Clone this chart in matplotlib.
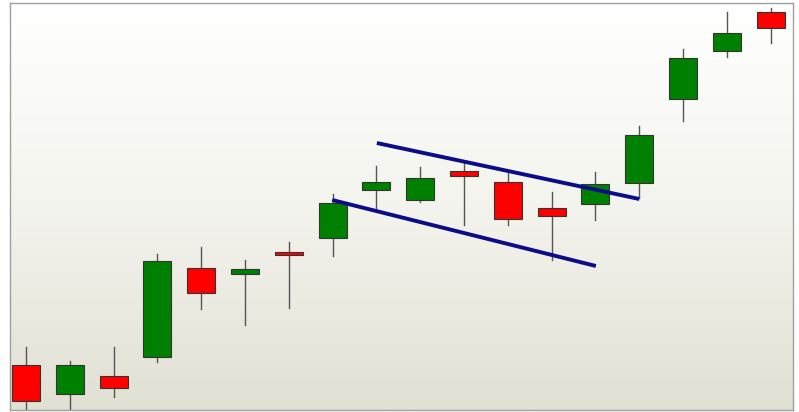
import numpy as np
import matplotlib.pyplot as plt
from matplotlib.colors import LinearSegmentedColormap

# candle data (open, high, low, close)
opens  = [24.5, 21.6, 23.4, 25.3, 34.2, 33.6, 35.8, 37.2, 42.0, 41.0, 43.9, 42.8, 40.2, 40.6, 42.7, 51.1, 55.9, 59.8]
highs  = [26.3, 24.9, 26.3, 35.6, 36.3, 35.0, 36.8, 41.6, 44.4, 44.3, 44.7, 43.8, 41.8, 43.8, 48.4, 56.1, 59.8, 60.2]
lows   = [19.9, 19.9, 21.3, 24.8, 30.1, 28.5, 30.2, 35.4, 40.1, 40.8, 38.5, 38.5, 35.0, 39.0, 41.2, 48.9, 55.3, 56.7]
closes = [20.9, 24.5, 22.2, 34.9, 31.7, 34.1, 35.5, 40.7, 42.8, 43.2, 43.4, 39.1, 39.4, 42.6, 47.5, 55.2, 57.7, 58.2]

# flag trend lines (x index, price)
upper_x = [8.01, 14.0]
upper_y = [46.7, 41.1]
lower_x = [6.99, 13.01]
lower_y = [41.0, 34.4]

fig = plt.figure(figsize=(7.99, 4.12), dpi=100)
ax = fig.add_axes([10 / 799, 2 / 412, 783 / 799, 407 / 412])

# gradient background, white at top
cmap = LinearSegmentedColormap.from_list('bg', ['#ffffff', '#f4f4ee', '#e0e0d3'])
grad = np.linspace(0, 1, 256).reshape(-1, 1)
ax.imshow(grad, cmap=cmap, aspect='auto', extent=[0, 1, 0, 1], origin='upper',
          transform=ax.transAxes, zorder=0)

width = 0.64
for i in range(len(opens)):
    o, h, l, c = opens[i], highs[i], lows[i], closes[i]
    color = '#008000' if c >= o else '#ff0000'
    ax.plot([i, i], [l, h], color='#555555', lw=1, zorder=2)
    bottom = min(o, c)
    ax.bar(i, abs(c - o), width=width, bottom=bottom, color=color,
           edgecolor='#333333', linewidth=0.8, zorder=3)

ax.plot(upper_x, upper_y, color='#0c0c8a', lw=2.8, zorder=4, solid_capstyle='butt')
ax.plot(lower_x, lower_y, color='#0c0c8a', lw=2.8, zorder=4, solid_capstyle='butt')

ax.set_xlim(-0.365, 17.51)
ax.set_ylim(20, 60.7)
ax.set_xticks([])
ax.set_yticks([])
for s in ax.spines.values():
    s.set_color('#a0a0a0')
    s.set_linewidth(1)

fig.savefig('out.png', dpi=100)
